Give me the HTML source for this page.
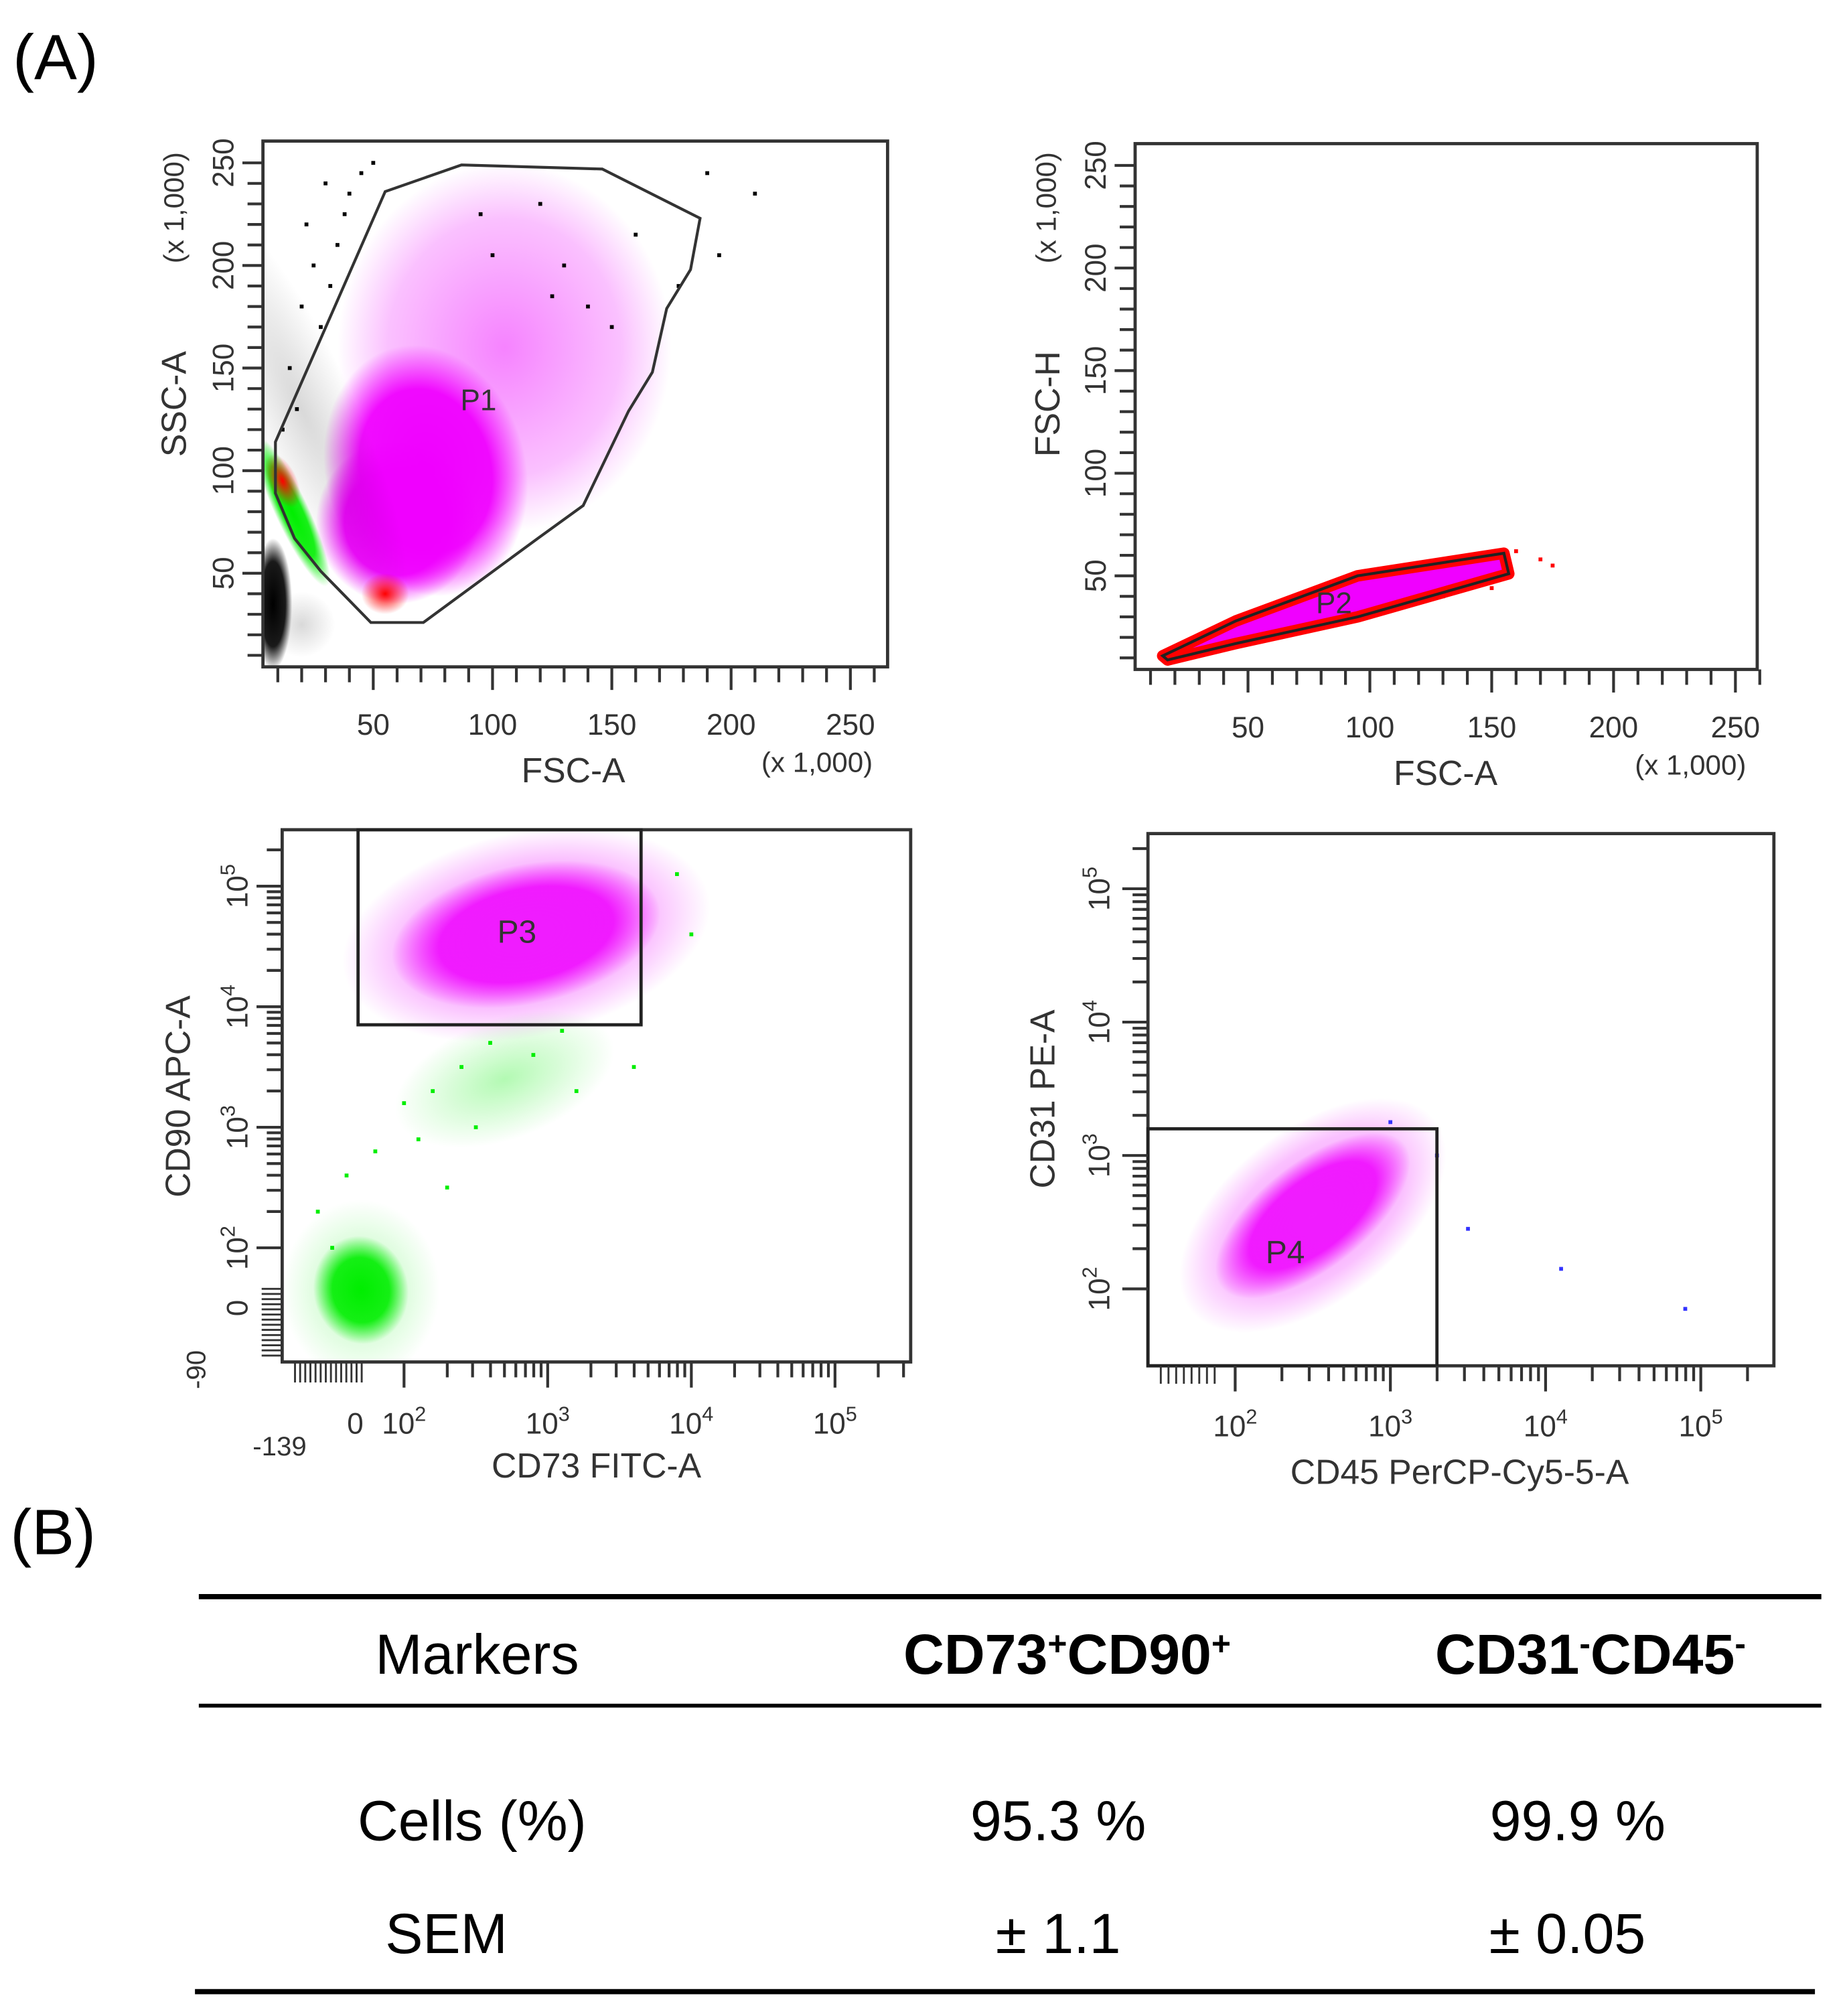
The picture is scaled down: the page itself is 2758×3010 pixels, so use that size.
<!DOCTYPE html>
<html><head><meta charset="utf-8">
<style>
html,body{margin:0;padding:0;background:#fff;}
svg{display:block;}
text{font-family:"Liberation Sans",sans-serif;}
</style></head>
<body>
<svg id="fig" xmlns="http://www.w3.org/2000/svg" width="2758" height="3010" viewBox="0 0 1440 1572" preserveAspectRatio="none">
<defs>
<radialGradient id="gM"><stop offset="0" stop-color="#f000ff" stop-opacity="1"/><stop offset="0.65" stop-color="#f000ff" stop-opacity="0.95"/><stop offset="1" stop-color="#f000ff" stop-opacity="0"/></radialGradient>
<radialGradient id="gMs"><stop offset="0" stop-color="#f030ff" stop-opacity="0.6"/><stop offset="0.7" stop-color="#f030ff" stop-opacity="0.3"/><stop offset="1" stop-color="#f030ff" stop-opacity="0"/></radialGradient>
<radialGradient id="gK"><stop offset="0" stop-color="#000" stop-opacity="1"/><stop offset="0.65" stop-color="#000" stop-opacity="0.9"/><stop offset="1" stop-color="#000" stop-opacity="0"/></radialGradient>
<radialGradient id="gKs"><stop offset="0" stop-color="#000" stop-opacity="0.15"/><stop offset="1" stop-color="#000" stop-opacity="0"/></radialGradient>
<radialGradient id="gR"><stop offset="0" stop-color="#ff0000" stop-opacity="1"/><stop offset="1" stop-color="#ff0000" stop-opacity="0"/></radialGradient>
<radialGradient id="gG"><stop offset="0" stop-color="#00ee00" stop-opacity="1"/><stop offset="0.6" stop-color="#00ee00" stop-opacity="0.9"/><stop offset="1" stop-color="#00ee00" stop-opacity="0"/></radialGradient>
<radialGradient id="gGs"><stop offset="0" stop-color="#00ee00" stop-opacity="0.3"/><stop offset="1" stop-color="#00ee00" stop-opacity="0"/></radialGradient>
</defs>
<text x="10" y="62" font-size="50">(A)</text>
<text x="8" y="1212" font-size="50">(B)</text>
<g id="table">
<line x1="155" y1="1245" x2="1420" y2="1245" stroke="#000" stroke-width="4"/>
<line x1="155" y1="1330" x2="1420" y2="1330" stroke="#000" stroke-width="3"/>
<line x1="152" y1="1553" x2="1415" y2="1553" stroke="#000" stroke-width="4"/>
<text x="372" y="1305" font-size="44" text-anchor="middle">Markers</text>
<text x="832" y="1305" font-size="44" font-weight="bold" text-anchor="middle">CD73<tspan baseline-shift="super" font-size="26">+</tspan>CD90<tspan baseline-shift="super" font-size="26">+</tspan></text>
<text x="1240" y="1305" font-size="44" font-weight="bold" text-anchor="middle">CD31<tspan baseline-shift="super" font-size="26">-</tspan>CD45<tspan baseline-shift="super" font-size="26">-</tspan></text>
<text x="368" y="1435" font-size="44" text-anchor="middle">Cells (%)</text>
<text x="825" y="1435" font-size="44" text-anchor="middle">95.3 %</text>
<text x="1230" y="1435" font-size="44" text-anchor="middle">99.9 %</text>
<text x="348" y="1523" font-size="44" text-anchor="middle">SEM</text>
<text x="825" y="1523" font-size="44" text-anchor="middle">± 1.1</text>
<text x="1222" y="1523" font-size="44" text-anchor="middle">± 0.05</text>
</g>
</svg>
<script>
// ---------- data ----------
// Plot 1 (FSC-A vs SSC-A, x1000)
const p1Ticks=[50,100,150,200,250];
const p1Gate=[[9,114],[55,236],[87,249],[146,247],[187,223],[183,198],[173,179],[167,148],[157,129],[138,83],[119,67],[71,26],[49,26],[28,51],[17,67],[9,89]];
// clusters: [cx, cy, rx, ry, kind, angle]
const p1Clusters=[[105,160,70,90,'Ms',0],[72,100,42,62,'M',-15],[60,75,34,40,'M',0],[20,130,22,110,'Ks',-25],[8,35,8,32,'K',0],[20,25,14,16,'Ks',0],[16,80,7,40,'G',-25],[55,40,10,10,'R',0],[12,95,6,14,'R',-25]];
const p1Points=[[30,240],[40,235],[50,250],[25,200],[20,180],[35,210],[15,150],[22,220],[190,245],[210,235],[195,205],[178,190],[130,200],[140,180],[160,215],[120,230],[150,170],[125,185],[100,205],[95,225],[28,170],[18,130],[32,190],[12,120],[38,225],[45,245]];
// Plot 2 (FSC-A vs FSC-H)
const p2Ticks=[50,100,150,200,250];
const p2Gate=[[15,11],[45,28],[95,50],[155,61],[157,51],[95,30],[45,17],[17,9]];
const p2Points=[[160,62],[170,58],[175,55],[130,40],[120,38],[110,35],[140,45],[100,32],[90,29],[150,44]];
// Plot 3 (CD73 FITC-A vs CD90 APC-A), values as log10 positions
const p3XTicks=[2,3,4,5];
const p3YTicks=[2,3,4,5];
const p3Gate=[[1.68,5.4],[3.65,3.85]];
const p3Clusters=[[2.85,4.6,0.95,0.58,'M',-12],[2.85,4.6,1.3,0.85,'Ms',-12],[1.7,1.65,0.33,0.45,'G',-10],[1.7,1.65,0.55,0.75,'Gs',0],[2.7,3.4,0.8,0.5,'Gs',-20]];
const p3Points=[[1.6,2.6],[2.1,2.9],[2.5,3.0],[1.4,2.3],[3.2,3.3],[3.6,3.5],[1.5,2.0],[2.3,2.5],[2.0,3.2],[3.9,5.1],[4.0,4.6],[2.6,3.7],[2.9,3.6],[3.1,3.8],[2.4,3.5],[1.8,2.8],[2.2,3.3]];
// Plot 4 (CD45 PerCP-Cy5-5-A vs CD31 PE-A)
const p4XTicks=[2,3,4,5];
const p4YTicks=[2,3,4,5];
const p4Gate=[[1.45,3.2],[3.3,1.45]];
const p4Clusters=[[2.5,2.55,0.75,0.4,'M',-38],[2.5,2.55,1.0,0.65,'Ms',-38]];
const p4Points=[[3.3,3.0],[3.5,2.45],[4.1,2.15],[4.9,1.85],[3.0,3.25]];

// ---------- axes ----------
const x1=v=>198+1.86*v, y1=v=>527-1.6*v;
const x2=v=>878+1.9*v, y2=v=>529-1.6*v;
const x3=d=>315+112*(d-2), y3=d=>785-94*(d-4);
const x4=d=>963+121*(d-2), y4=d=>1005-104*(d-2);

const NS='http://www.w3.org/2000/svg';
const svg=document.getElementById('fig');
function mk(tag,attrs,parent){const e=document.createElementNS(NS,tag);for(const k in attrs)e.setAttribute(k,attrs[k]);(parent||svg).appendChild(e);return e;}
const fills={M:'url(#gM)',Ms:'url(#gMs)',K:'url(#gK)',Ks:'url(#gKs)',R:'url(#gR)',G:'url(#gG)',Gs:'url(#gGs)'};

function plot(id,box,fx,fy,clusters,points,pointKind){
  const g=mk('g',{});
  
  
  const cp=mk('clipPath',{id:id+'-clip'},g);
  mk('rect',{x:box[0],y:box[1],width:box[2]-box[0],height:box[3]-box[1]},cp);
  const inner=mk('g',{'clip-path':'url(#'+id+'-clip)'},g);
  clusters.forEach(c=>{
    const cx=fx(c[0]),cy=fy(c[1]);
    const rx=Math.abs(fx(c[0]+c[2])-cx),ry=Math.abs(fy(c[1]+c[3])-cy);
    const e=mk('ellipse',{cx:cx,cy:cy,rx:rx,ry:ry,fill:fills[c[4]],transform:'rotate('+(c[5]||0)+' '+cx+' '+cy+')'},inner);
    
    
  });
  points.forEach(p=>{
    const r=mk('rect',{x:fx(p[0])-1.5,y:fy(p[1])-1.5,width:3,height:3,fill:pointKind},inner);
    
    
  });
  const fr=mk('rect',{x:box[0],y:box[1],width:box[2]-box[0],height:box[3]-box[1],fill:'none',stroke:'#333',"stroke-width":2.5},g);
  
  
  return g;
}
function txt(x,y,s,size,rot,anchor,name){
  const t=mk('text',{x:x,y:y,'font-size':size,fill:'#333','text-anchor':anchor||'middle'});
  if(rot)t.setAttribute('transform','rotate(-90 '+x+' '+y+')');
  t.textContent=s;
  
  
  return t;
}
function line(a,b,c,d,w){const l=mk('line',{x1:a,y1:b,x2:c,y2:d,stroke:'#333','stroke-width':w||2.2});return l;}

// ----- Plot 1 -----
const b1=[205,110,692,520];
const g1=plot('fsc-ssc-plot',b1,x1,y1,p1Clusters,p1Points,'#000');
const gate1=mk('polygon',{points:p1Gate.map(p=>x1(p[0])+','+y1(p[1])).join(' '),fill:'none',stroke:'#333','stroke-width':2.2},g1);


txt(373,320,'P1',23,0,'middle','gate-p1-label');
for(let v=10;v<=260;v+=10){line(x1(v),b1[3],x1(v),b1[3]+(v%50?12:18));}
for(let v=10;v<=250;v+=10){line(b1[0],y1(v),b1[0]-(v%50?12:16),y1(v));}
p1Ticks.forEach(v=>{txt(x1(v),573,String(v),23,0,'middle','x-tick-label');txt(182,y1(v),String(v),23,true,'middle','y-tick-label');});
txt(447,610,'FSC-A',27,0,'middle','x-axis-title');
txt(637,602,'(x 1,000)',22,0,'middle','x-axis-unit');
txt(145,315,'SSC-A',27,true,'middle','y-axis-title');
txt(143,162,'(x 1,000)',22,true,'middle','y-axis-unit');

// ----- Plot 2 -----
const b2=[885,112,1370,522];
const g2=plot('fsca-fsch-plot',b2,x2,y2,[],p2Points,'#f00');
const popPts=p2Gate.map(p=>x2(p[0])+','+y2(p[1])).join(' ');
const popR=mk('polygon',{points:popPts,fill:'#f000ff',stroke:'#f00','stroke-width':9,'stroke-linejoin':'round'},g2);


const gate2=mk('polygon',{points:popPts,fill:'none',stroke:'#222','stroke-width':2.2},g2);


txt(1040,478,'P2',23,0,'middle','gate-p2-label');
for(let v=10;v<=260;v+=10){line(x2(v),b2[3],x2(v),b2[3]+(v%50?12:18));}
for(let v=10;v<=250;v+=10){line(b2[0],y2(v),b2[0]-(v%50?12:16),y2(v));}
p2Ticks.forEach(v=>{txt(x2(v),575,String(v),23,0,'middle','x-tick-label');txt(862,y2(v),String(v),23,true,'middle','y-tick-label');});
txt(1127,612,'FSC-A',27,0,'middle','x-axis-title');
txt(1318,604,'(x 1,000)',22,0,'middle','x-axis-unit');
txt(826,315,'FSC-H',27,true,'middle','y-axis-title');
txt(823,162,'(x 1,000)',22,true,'middle','y-axis-unit');

function logTicks(fx,fy,b,xt,yt){
  xt.forEach(d=>{line(fx(d),b[3],fx(d),b[3]+20);
    for(let m=2;m<10;m++){const dd=d+Math.log10(m);if(fx(dd)<b[2])line(fx(dd),b[3],fx(dd),b[3]+12);}
  });
  yt.forEach(d=>{line(b[0],fy(d),b[0]-20,fy(d));
    for(let m=2;m<10;m++){const dd=d+Math.log10(m);if(fy(dd)>b[1])line(b[0],fy(dd),b[0]-12,fy(dd));}
  });
}
function sup(x,y,d,rot,name){
  const t=mk('text',{x:x,y:y,'font-size':23,fill:'#333','text-anchor':'middle'});
  if(rot)t.setAttribute('transform','rotate(-90 '+x+' '+y+')');
  t.textContent='10';
  const s=mk('tspan',{dy:-10,'font-size':16},t);s.textContent=String(d);
  
  
}
// ----- Plot 3 -----
const b3=[220,647,710,1062];
const g3=plot('cd73-cd90-plot',b3,x3,y3,p3Clusters,p3Points,'#0e0');
const gate3=mk('rect',{x:x3(p3Gate[0][0]),y:b3[1],width:x3(p3Gate[1][0])-x3(p3Gate[0][0]),height:y3(p3Gate[1][1])-b3[1],fill:'none',stroke:'#222','stroke-width':2.5},g3);


txt(403,735,'P3',25,0,'middle','gate-p3-label');
logTicks(x3,y3,b3,p3XTicks,p3YTicks);
for(let k=0;k<14;k++){line(230+k*4,b3[3],230+k*4,b3[3]+16,1.5);line(b3[0],1005+k*4,b3[0]-16,1005+k*4,1.5);}
p3XTicks.forEach(d=>sup(x3(d),1118,d,false,'x-tick-label'));
p3YTicks.forEach(d=>sup(193,y3(d),d,true,'y-tick-label'));
txt(277,1118,'0',23,0,'middle','x-tick-label');
txt(218,1135,'-139',21,0,'middle','x-tick-label');
txt(193,1020,'0',23,true,'middle','y-tick-label');
txt(160,1068,'-90',21,true,'middle','y-tick-label');
txt(465,1152,'CD73 FITC-A',27,0,'middle','x-axis-title');
txt(148,855,'CD90 APC-A',27,true,'middle','y-axis-title');

// ----- Plot 4 -----
const b4=[895,650,1383,1065];
const g4=plot('cd45-cd31-plot',b4,x4,y4,p4Clusters,p4Points,'#33f');
const gate4=mk('rect',{x:b4[0],y:y4(p4Gate[0][1]),width:x4(p4Gate[1][0])-b4[0],height:b4[3]-y4(p4Gate[0][1]),fill:'none',stroke:'#222','stroke-width':2.5},g4);


txt(1002,985,'P4',25,0,'middle','gate-p4-label');
logTicks(x4,y4,b4,p4XTicks,p4YTicks);
for(let k=0;k<8;k++){line(905+k*6,b4[3],905+k*6,b4[3]+14,1.5);}
p4XTicks.forEach(d=>sup(x4(d),1120,d,false,'x-tick-label'));
p4YTicks.forEach(d=>sup(865,y4(d),d,true,'y-tick-label'));
txt(1138,1157,'CD45 PerCP-Cy5-5-A',27,0,'middle','x-axis-title');
txt(822,857,'CD31 PE-A',27,true,'middle','y-axis-title');
</script>
</body></html>
